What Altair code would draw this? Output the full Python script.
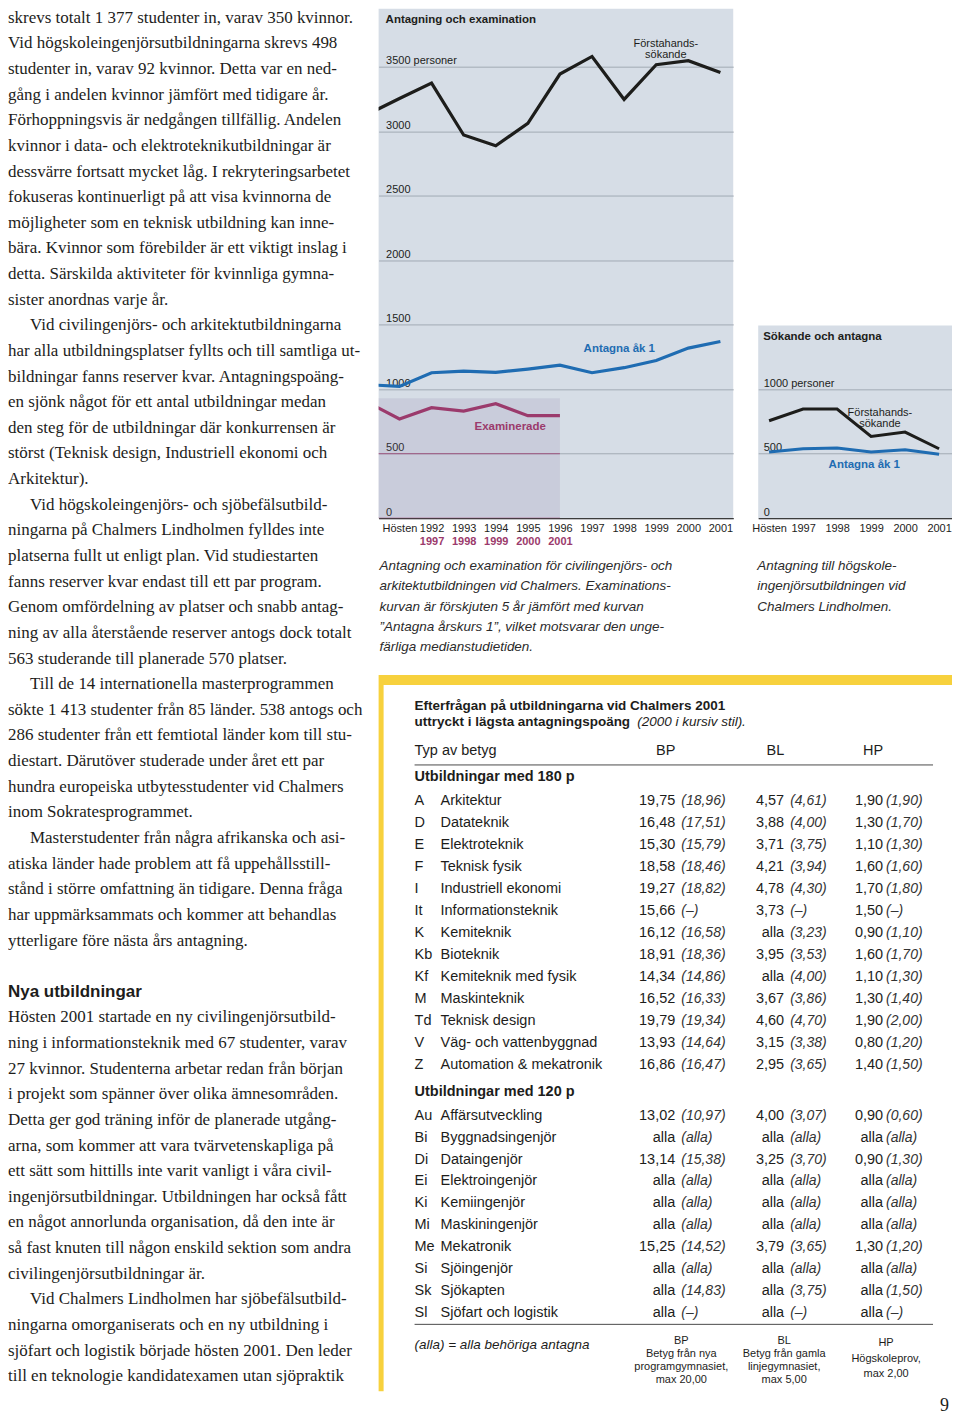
import altair as alt
import pandas as pd

SANS = "Liberation Sans"
SERIF = "Liberation Serif"
INK = "#1d1d1b"
BLUE = "#1f6cb2"
PLUM = "#9b3a6c"
PANEL = "#d6dde6"
GRID = "#a2aab4"
YELLOW = "#f7d13d"

# ---------------- data: Antagning och examination ----------------
main_years = [1990, 1991, 1992, 1993, 1994, 1995, 1996, 1997, 1998, 1999, 2000, 2001]
forsta_main = [3131, 3254, 3374, 2971, 2888, 3061, 3444, 3580, 3247, 3516, 3547, 3456]
antagna_main = [1035, 1022, 1128, 1141, 1130, 1156, 1187, 1128, 1167, 1223, 1319, 1370]
exam_years = [1995, 1996, 1997, 1998, 1999, 2000, 2001]
exam_values = [900, 769, 857, 831, 888, 795, 795]
EXAM_SHIFT = 5

# ---------------- data: Sökande och antagna (Lindholmen) ----------------
lind_years = [1996, 1997, 1998, 1999, 2000, 2001]
lind_forsta = [755, 846, 846, 633, 667, 538]
lind_antagna = [513, 538, 544, 513, 530, 495]

SERIES = ["Förstahandssökande", "Antagna åk 1", "Examinerade"]
color_scale = alt.Scale(domain=SERIES, range=[INK, BLUE, PLUM])

# ---------------- left text column ----------------
left_lines = [
    "skrevs totalt 1 377 studenter in, varav 350 kvinnor.",
    "Vid högskoleingenjörsutbildningarna skrevs 498",
    "studenter in, varav 92 kvinnor. Detta var en ned-",
    "gång i andelen kvinnor jämfört med tidigare år.",
    "Förhoppningsvis är nedgången tillfällig. Andelen",
    "kvinnor i data- och elektroteknikutbildningar är",
    "dessvärre fortsatt mycket låg. I rekryteringsarbetet",
    "fokuseras kontinuerligt på att visa kvinnorna de",
    "möjligheter som en teknisk utbildning kan inne-",
    "bära. Kvinnor som förebilder är ett viktigt inslag i",
    "detta. Särskilda aktiviteter för kvinnliga gymna-",
    "sister anordnas varje år.",
    "Vid civilingenjörs- och arkitektutbildningarna",
    "har alla utbildningsplatser fyllts och till samtliga ut-",
    "bildningar fanns reserver kvar. Antagningspoäng-",
    "en sjönk något för ett antal utbildningar medan",
    "den steg för de utbildningar där konkurrensen är",
    "störst (Teknisk design, Industriell ekonomi och",
    "Arkitektur).",
    "Vid högskoleingenjörs- och sjöbefälsutbild-",
    "ningarna på Chalmers Lindholmen fylldes inte",
    "platserna fullt ut enligt plan. Vid studiestarten",
    "fanns reserver kvar endast till ett par program.",
    "Genom omfördelning av platser och snabb antag-",
    "ning av alla återstående reserver antogs dock totalt",
    "563 studerande till planerade 570 platser.",
    "Till de 14 internationella masterprogrammen",
    "sökte 1 413 studenter från 85 länder. 538 antogs och",
    "286 studenter från ett femtiotal länder kom till stu-",
    "diestart. Därutöver studerade under året ett par",
    "hundra europeiska utbytesstudenter vid Chalmers",
    "inom Sokratesprogrammet.",
    "Masterstudenter från några afrikanska och asi-",
    "atiska länder hade problem att få uppehållsstill-",
    "stånd i större omfattning än tidigare. Denna fråga",
    "har uppmärksammats och kommer att behandlas",
    "ytterligare före nästa års antagning.",
    "Hösten 2001 startade en ny civilingenjörsutbild-",
    "ning i informationsteknik med 67 studenter, varav",
    "27 kvinnor. Studenterna arbetar redan från början",
    "i projekt som spänner över olika ämnesområden.",
    "Detta ger god träning inför de planerade utgång-",
    "arna, som kommer att vara tvärvetenskapliga på",
    "ett sätt som hittills inte varit vanligt i våra civil-",
    "ingenjörsutbildningar. Utbildningen har också fått",
    "en något annorlunda organisation, då den inte är",
    "så fast knuten till någon enskild sektion som andra",
    "civilingenjörsutbildningar är.",
    "Vid Chalmers Lindholmen har sjöbefälsutbild-",
    "ningarna omorganiserats och en ny utbildning i",
    "sjöfart och logistik började hösten 2001. Den leder",
    "till en teknologie kandidatexamen utan sjöpraktik",
]
para_starts = [12, 19, 26, 32, 48]
heading_text = "Nya utbildningar"
heading_before = 37  # heading comes before this line (after a blank line)

# ---------------- captions ----------------
cap_mid = [
    "Antagning och examination för civilingenjörs- och",
    "arkitektutbildningen vid Chalmers. Examinations-",
    "kurvan är förskjuten 5 år jämfört med kurvan",
    "\u201dAntagna årskurs 1\u201d, vilket motsvarar den unge-",
    "färliga medianstudietiden.",
]
cap_lind = [
    "Antagning till högskole-",
    "ingenjörsutbildningen vid",
    "Chalmers Lindholmen.",
]

# ---------------- table ----------------
tbl_title1 = "Efterfrågan på utbildningarna vid Chalmers 2001"
tbl_title2 = "uttryckt i lägsta antagningspoäng"
tbl_title2_it = "(2000 i kursiv stil)."
tbl_header = ["Typ av betyg", "BP", "BL", "HP"]
sec_titles = ["Utbildningar med 180 p", "Utbildningar med 120 p"]

codes_180 = ["A", "D", "E", "F", "I", "It", "K", "Kb", "Kf", "M", "Td", "V", "Z"]
names_180 = ["Arkitektur", "Datateknik", "Elektroteknik", "Teknisk fysik", "Industriell ekonomi",
             "Informationsteknik", "Kemiteknik", "Bioteknik", "Kemiteknik med fysik", "Maskinteknik",
             "Teknisk design", "Väg- och vattenbyggnad", "Automation & mekatronik"]
bp_180 = ["19,75", "16,48", "15,30", "18,58", "19,27", "15,66", "16,12", "18,91", "14,34", "16,52", "19,79", "13,93", "16,86"]
bp00_180 = ["(18,96)", "(17,51)", "(15,79)", "(18,46)", "(18,82)", "(\u2013)", "(16,58)", "(18,36)", "(14,86)", "(16,33)", "(19,34)", "(14,64)", "(16,47)"]
bl_180 = ["4,57", "3,88", "3,71", "4,21", "4,78", "3,73", "alla", "3,95", "alla", "3,67", "4,60", "3,15", "2,95"]
bl00_180 = ["(4,61)", "(4,00)", "(3,75)", "(3,94)", "(4,30)", "(\u2013)", "(3,23)", "(3,53)", "(4,00)", "(3,86)", "(4,70)", "(3,38)", "(3,65)"]
hp_180 = ["1,90", "1,30", "1,10", "1,60", "1,70", "1,50", "0,90", "1,60", "1,10", "1,30", "1,90", "0,80", "1,40"]
hp00_180 = ["(1,90)", "(1,70)", "(1,30)", "(1,60)", "(1,80)", "(\u2013)", "(1,10)", "(1,70)", "(1,30)", "(1,40)", "(2,00)", "(1,20)", "(1,50)"]

codes_120 = ["Au", "Bi", "Di", "Ei", "Ki", "Mi", "Me", "Si", "Sk", "Sl"]
names_120 = ["Affärsutveckling", "Byggnadsingenjör", "Dataingenjör", "Elektroingenjör", "Kemiingenjör",
             "Maskiningenjör", "Mekatronik", "Sjöingenjör", "Sjökapten", "Sjöfart och logistik"]
bp_120 = ["13,02", "alla", "13,14", "alla", "alla", "alla", "15,25", "alla", "alla", "alla"]
bp00_120 = ["(10,97)", "(alla)", "(15,38)", "(alla)", "(alla)", "(alla)", "(14,52)", "(alla)", "(14,83)", "(\u2013)"]
bl_120 = ["4,00", "alla", "3,25", "alla", "alla", "alla", "3,79", "alla", "alla", "alla"]
bl00_120 = ["(3,07)", "(alla)", "(3,70)", "(alla)", "(alla)", "(alla)", "(3,65)", "(alla)", "(3,75)", "(\u2013)"]
hp_120 = ["0,90", "alla", "0,90", "alla", "alla", "alla", "1,30", "alla", "alla", "alla"]
hp00_120 = ["(0,60)", "(alla)", "(1,30)", "(alla)", "(alla)", "(alla)", "(1,20)", "(alla)", "(1,50)", "(\u2013)"]

tbl_footer = "(alla) = alla behöriga antagna"
foot_bp = "BP\nBetyg från nya\nprogramgymnasiet,\nmax 20,00"
foot_bl = "BL\nBetyg från gamla\nlinjegymnasiet,\nmax 5,00"
foot_hp = "HP\nHögskoleprov,\nmax 2,00"
page_number = "9"

# overall layout (must fit 944 px wide, 1409 px tall)
LEFT_W, MID_W, LIND_W, RIGHT_W, TOTAL_H = 370, 355, 194, 574, 1409


def blank(w, h, fill=None):
    c = alt.Chart(pd.DataFrame({"v": [0]})).mark_point(opacity=0).properties(width=w, height=h)
    if fill:
        c = c.properties(view=alt.ViewBackground(fill=fill, stroke=None))
    return c


# ======================= LEFT COLUMN =======================
rows = []
for i, t in enumerate(left_lines):
    slot = i if i < heading_before else i + 2
    rows.append({"slot": slot, "text": t, "indent": 1 if i in para_starts else 0, "kind": "body"})
rows.append({"slot": heading_before + 1, "text": heading_text, "indent": 0, "kind": "head"})
left_df = pd.DataFrame(rows)

ly = alt.Scale(domain=[0, 53], range=[9, 1369])
lx = alt.Scale(domain=[0, 1], range=[0, 22])
left_body = alt.Chart(left_df).transform_filter("datum.kind == 'body'").mark_text(
    align="left", baseline="middle", font=SERIF, fontSize=17, color=INK
).encode(
    x=alt.X("indent:Q", scale=lx, axis=None),
    y=alt.Y("slot:Q", scale=ly, axis=None),
    text="text:N",
)
left_head = alt.Chart(left_df).transform_filter("datum.kind == 'head'").mark_text(
    align="left", baseline="middle", font=SANS, fontSize=17, fontWeight="bold", color=INK
).encode(
    x=alt.X("indent:Q", scale=lx, axis=None),
    y=alt.Y("slot:Q", scale=ly, axis=None),
    text="text:N",
)
left_col = alt.layer(left_body, left_head).properties(width=LEFT_W, height=TOTAL_H)

# ======================= MID CHART =======================
MID_X = [1990.35, 2001.40]
H_TOP = 510
exam_pos = [y - EXAM_SHIFT for y in exam_years]
mid_df = pd.DataFrame({
    "x": main_years + main_years + exam_pos,
    "value": forsta_main + antagna_main + exam_values,
    "series": [SERIES[0]] * len(main_years) + [SERIES[1]] * len(main_years) + [SERIES[2]] * len(exam_years),
})
xm = alt.Scale(domain=MID_X, nice=False, zero=False)
ym = alt.Scale(domain=[0, 3950], nice=False, zero=False)

axis_x_mid = alt.Axis(values=list(range(1991, 2002)), format="d",
                      labelExpr="datum.value == 1991 ? 'Hösten' : datum.label",
                      ticks=False, grid=False, domainColor="#3c3c3c", domainWidth=1.2,
                      labelFlush=False, labelOverlap=False, labelPadding=4,
                      labelFont=SANS, labelFontSize=11, labelColor=INK, title=None, orient="bottom")
axis_x_exam = alt.Axis(values=exam_pos[2:], format="d",
                       labelExpr=f"datum.value + {EXAM_SHIFT}", orient="bottom", offset=13,
                       ticks=False, grid=False, domain=False, labelFlush=False, labelOverlap=False,
                       labelPadding=4, labelFont=SANS, labelFontSize=11, labelFontWeight="bold",
                       labelColor=PLUM, title=None)
axis_y_mid = alt.Axis(values=[0, 500, 1000, 1500, 2000, 2500, 3000, 3500], format="d",
                      labelExpr="datum.value == 3500 ? datum.label + ' personer' : datum.label",
                      grid=True, gridColor=GRID, gridWidth=1, ticks=False, domain=False,
                      labelAlign="left", labelBaseline="alphabetic", labelPadding=-7, labelOffset=-3,
                      labelFont=SANS, labelFontSize=11, labelColor=INK, title=None, labelOverlap=False,
                      orient="left")

shade_df = pd.DataFrame({"x0": [min(exam_pos)], "x1": [max(exam_pos)]})
shade = alt.Chart(shade_df).mark_rect(color="#86779f", opacity=0.16, clip=True).encode(
    x=alt.X("x0:Q", scale=xm, axis=None), x2="x1:Q",
    y=alt.YDatum(0, scale=ym, axis=axis_y_mid), y2=alt.Y2Datum(930),
)
shade_rules_df = pd.DataFrame({"x0": [min(exam_pos)] * 2, "x1": [max(exam_pos)] * 2, "v": [0, 500]})
shade_rules = alt.Chart(shade_rules_df).mark_rule(color=PLUM, strokeWidth=1, opacity=0.75, clip=True).encode(
    x=alt.X("x0:Q", scale=xm, axis=None), x2="x1:Q",
    y=alt.Y("v:Q", scale=ym, axis=None),
)
exam_line = alt.Chart(mid_df).transform_filter(f"datum.series == '{SERIES[2]}'").mark_line(
    strokeWidth=3.2, clip=True, color=PLUM, strokeJoin="miter"
).encode(
    x=alt.X("x:Q", scale=xm, axis=axis_x_exam),
    y=alt.Y("value:Q", scale=ym, axis=None),
)
main_lines = alt.Chart(mid_df).transform_filter(f"datum.series != '{SERIES[2]}'").mark_line(
    strokeWidth=3.2, clip=True, strokeJoin="miter"
).encode(
    x=alt.X("x:Q", scale=xm, axis=axis_x_mid),
    y=alt.Y("value:Q", scale=ym, axis=None),
    color=alt.Color("series:N", scale=color_scale, legend=None),
)
mid_notes = pd.DataFrame({
    "x": [1999.3, 1997.85, 1994.45],
    "value": [3678, 1309, 705],
    "label": ["Förstahands-\nsökande", "Antagna åk 1", "Examinerade"],
    "series": SERIES,
})
note_plain = alt.Chart(mid_notes).transform_filter(f"datum.series == '{SERIES[0]}'").mark_text(
    font=SANS, fontSize=11, lineBreak="\n", lineHeight=11, color=INK
).encode(x=alt.X("x:Q", scale=xm, axis=None), y=alt.Y("value:Q", scale=ym, axis=None), text="label:N")
note_bold = alt.Chart(mid_notes).transform_filter(f"datum.series != '{SERIES[0]}'").mark_text(
    font=SANS, fontSize=11.5, fontWeight="bold"
).encode(x=alt.X("x:Q", scale=xm, axis=None), y=alt.Y("value:Q", scale=ym, axis=None), text="label:N",
         color=alt.Color("series:N", scale=color_scale, legend=None))
mid_title = alt.Chart(pd.DataFrame({"t": ["Antagning och examination"]})).mark_text(
    align="left", baseline="middle", font=SANS, fontSize=11.5, fontWeight="bold", color=INK, dx=7
).encode(x=alt.XDatum(MID_X[0], scale=xm, axis=None), y=alt.YDatum(3864, scale=ym, axis=None), text="t:N")

mid = alt.layer(shade, shade_rules, exam_line, main_lines, note_plain, note_bold, mid_title).resolve_axis(
    x="independent", y="independent").properties(
    width=MID_W, height=H_TOP, view=alt.ViewBackground(fill=PANEL, stroke=None))

# ======================= RIGHT CHART =======================
LIND_X = [1995.68, 2001.38]
lind_df = pd.DataFrame({
    "x": lind_years + lind_years,
    "value": lind_forsta + lind_antagna,
    "series": [SERIES[0]] * len(lind_years) + [SERIES[1]] * len(lind_years),
})
xl = alt.Scale(domain=LIND_X, nice=False, zero=False)
yl = alt.Scale(domain=[0, 1494], nice=False, zero=False)
axis_x_l = alt.Axis(values=lind_years, format="d",
                    labelExpr="datum.value == 1996 ? 'Hösten' : datum.label",
                    ticks=False, grid=False, domainColor="#3c3c3c", domainWidth=1.2,
                    labelFlush=False, labelOverlap=False, labelPadding=4,
                    labelFont=SANS, labelFontSize=11, labelColor=INK, title=None, orient="bottom")
axis_y_l = alt.Axis(values=[0, 500, 1000], format="d",
                    labelExpr="datum.value == 1000 ? datum.label + ' personer' : datum.label",
                    grid=True, gridColor=GRID, gridWidth=1, ticks=False, domain=False,
                    labelAlign="left", labelBaseline="alphabetic", labelPadding=-5, labelOffset=-3,
                    labelFont=SANS, labelFontSize=11, labelColor=INK, title=None, labelOverlap=False,
                    orient="left")
lind_lines = alt.Chart(lind_df).mark_line(strokeWidth=3, strokeJoin="miter").encode(
    x=alt.X("x:Q", scale=xl, axis=axis_x_l),
    y=alt.Y("value:Q", scale=yl, axis=axis_y_l),
    color=alt.Color("series:N", scale=color_scale, legend=None),
)
lind_notes = pd.DataFrame({
    "x": [1999.26, 1998.8],
    "value": [813, 410],
    "label": ["Förstahands-\nsökande", "Antagna åk 1"],
    "series": SERIES[:2],
})
lnote_plain = alt.Chart(lind_notes).transform_filter(f"datum.series == '{SERIES[0]}'").mark_text(
    font=SANS, fontSize=11, lineBreak="\n", lineHeight=11, color=INK
).encode(x=alt.X("x:Q", scale=xl, axis=None), y=alt.Y("value:Q", scale=yl, axis=None), text="label:N")
lnote_bold = alt.Chart(lind_notes).transform_filter(f"datum.series != '{SERIES[0]}'").mark_text(
    font=SANS, fontSize=11.5, fontWeight="bold", color=BLUE
).encode(x=alt.X("x:Q", scale=xl, axis=None), y=alt.Y("value:Q", scale=yl, axis=None), text="label:N")
lind_title = alt.Chart(pd.DataFrame({"t": ["Sökande och antagna"]})).mark_text(
    align="left", baseline="middle", font=SANS, fontSize=11.5, fontWeight="bold", color=INK, dx=5
).encode(x=alt.XDatum(LIND_X[0], scale=xl, axis=None), y=alt.YDatum(1402, scale=yl, axis=None), text="t:N")
lind = alt.layer(lind_lines, lnote_plain, lnote_bold, lind_title).resolve_axis(
    x="independent", y="independent").properties(
    width=LIND_W, height=193, view=alt.ViewBackground(fill=PANEL, stroke=None))
lind_col = alt.vconcat(blank(LIND_W, 317), lind, spacing=0, bounds="flush")

top_row = alt.hconcat(mid, lind_col, spacing=18)

# ======================= CAPTIONS =======================
cap_df = pd.DataFrame({
    "col": [0] * len(cap_mid) + [1] * len(cap_lind),
    "line": list(range(len(cap_mid))) + list(range(len(cap_lind))),
    "text": cap_mid + cap_lind,
})
captions = alt.Chart(cap_df).mark_text(
    align="left", baseline="middle", font=SANS, fontSize=13.5, fontStyle="italic", color="#2b2b2b"
).encode(
    x=alt.X("col:Q", scale=alt.Scale(domain=[0, 1], range=[1, 379]), axis=None),
    y=alt.Y("line:Q", scale=alt.Scale(domain=[0, 4], range=[20, 101]), axis=None),
    text="text:N",
).properties(width=RIGHT_W, height=122)

# ======================= TABLE =======================
cells = []
for codes, names, bp, bp0, bl, bl0, hp, hp0, first in [
    (codes_180, names_180, bp_180, bp00_180, bl_180, bl00_180, hp_180, hp00_180, 5),
    (codes_120, names_120, bp_120, bp00_120, bl_120, bl00_120, hp_120, hp00_120, 19),
]:
    for i in range(len(codes)):
        s = first + i
        cells += [
            {"slot": s, "col": 0, "text": codes[i], "kind": "left"},
            {"slot": s, "col": 1, "text": names[i], "kind": "left"},
            {"slot": s, "col": 2, "text": bp[i], "kind": "num"},
            {"slot": s, "col": 3, "text": bp0[i], "kind": "prev"},
            {"slot": s, "col": 4, "text": bl[i], "kind": "num"},
            {"slot": s, "col": 5, "text": bl0[i], "kind": "prev"},
            {"slot": s, "col": 6, "text": hp[i], "kind": "num"},
            {"slot": s, "col": 7, "text": hp0[i], "kind": "prev"},
        ]
cells += [
    {"slot": 2, "col": 0, "text": tbl_header[0], "kind": "left"},
    {"slot": 2, "col": 2, "text": tbl_header[1], "kind": "num"},
    {"slot": 2, "col": 4, "text": tbl_header[2], "kind": "num"},
    {"slot": 2, "col": 6, "text": tbl_header[3], "kind": "num"},
    {"slot": 0, "col": 0, "text": tbl_title1, "kind": "title"},
    {"slot": 1, "col": 0, "text": tbl_title2, "kind": "title"},
    {"slot": 1, "col": 0, "text": tbl_title2_it, "kind": "title_it"},
    {"slot": 4, "col": 0, "text": sec_titles[0], "kind": "sec"},
    {"slot": 18, "col": 0, "text": sec_titles[1], "kind": "sec"},
    {"slot": 30, "col": 0, "text": tbl_footer, "kind": "footer"},
    {"slot": 30, "col": 3, "text": foot_bp, "kind": "foot4"},
    {"slot": 30, "col": 4, "text": foot_bl, "kind": "foot4"},
    {"slot": 30, "col": 7, "text": foot_hp, "kind": "foot3"},
    {"slot": 31, "col": 9, "text": page_number, "kind": "page"},
]
tbl_df = pd.DataFrame(cells)
xt = alt.Scale(domain=[0, 1, 2, 3, 4, 5, 6, 7, 8, 9], range=[31, 57, 292, 298, 401, 407, 500, 503, 550, 566])
yt = alt.Scale(domain=[0, 1, 2, 3, 4, 5, 17, 18, 19, 28, 29, 30, 31],
               range=[21, 37, 66, 80, 92, 116, 380, 407, 431, 629, 640, 661, 722])


def tlayer(kind, **mk):
    return alt.Chart(tbl_df).transform_filter(f"datum.kind == '{kind}'").mark_text(**mk).encode(
        x=alt.X("col:Q", scale=xt, axis=None), y=alt.Y("slot:Q", scale=yt, axis=None), text="text:N")


rules_df = pd.DataFrame({"slot": [3, 29]})
rules = alt.Chart(rules_df).mark_rule(color="#4a4a4a", strokeWidth=1).encode(
    x=alt.XDatum(0, scale=xt, axis=None), x2=alt.X2Datum(8), y=alt.Y("slot:Q", scale=yt, axis=None))

table_body = alt.layer(
    rules,
    tlayer("left", align="left", baseline="middle", font=SANS, fontSize=14.5, color=INK),
    tlayer("num", align="right", baseline="middle", font=SANS, fontSize=14.5, color=INK),
    tlayer("prev", align="left", baseline="middle", font=SANS, fontSize=14, fontStyle="italic", color="#333333"),
    tlayer("title", align="left", baseline="middle", font=SANS, fontSize=13.5, fontWeight="bold", color=INK),
    tlayer("title_it", align="left", baseline="middle", font=SANS, fontSize=13.5, fontStyle="italic", color=INK, dx=223),
    tlayer("sec", align="left", baseline="middle", font=SANS, fontSize=14.5, fontWeight="bold", color=INK),
    tlayer("footer", align="left", baseline="middle", font=SANS, fontSize=13.5, fontStyle="italic", color=INK),
    tlayer("foot4", align="center", baseline="top", font=SANS, fontSize=11, lineBreak="\n", lineHeight=13, dy=-10, color=INK),
    tlayer("foot3", align="center", baseline="top", font=SANS, fontSize=11, lineBreak="\n", lineHeight=15.5, dy=-8, color=INK),
    tlayer("page", align="right", baseline="middle", font=SERIF, fontSize=18, color=INK),
).properties(width=RIGHT_W - 5, height=732)

table_block = alt.vconcat(
    blank(RIGHT_W, 7),
    blank(RIGHT_W, 10, YELLOW),
    alt.hconcat(blank(5, 707, YELLOW), table_body, spacing=0, bounds="flush"),
    spacing=0,
)

right_col = alt.vconcat(top_row, captions, table_block, spacing=0)

chart = alt.hconcat(left_col, right_col, spacing=0).properties(
    padding=0, background="white"
).configure_view(stroke=None)

chart.save("out.html", embed_options={"renderer": "svg", "actions": False})
